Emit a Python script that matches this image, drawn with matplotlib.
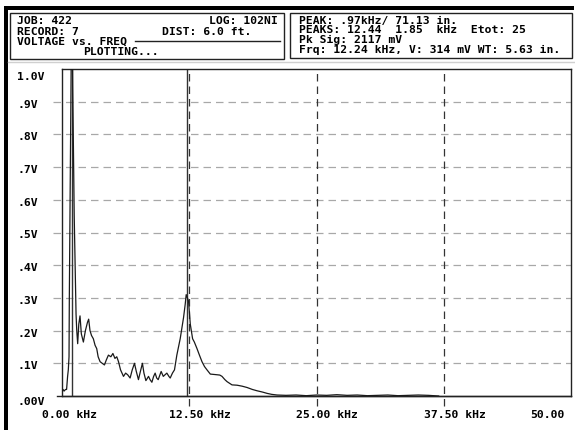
import matplotlib
matplotlib.use('Agg')
import matplotlib.pyplot as plt
import matplotlib.transforms as mtransforms
from matplotlib.patches import Rectangle
from matplotlib.lines import Line2D

# spectrum (kHz, V)
freq_khz = [0.0, 0.1, 0.2, 0.35, 0.45, 0.55, 0.62, 0.69, 0.72, 0.8, 0.88, 0.97,
            1.05, 1.2, 1.38, 1.45, 1.54, 1.65, 1.77, 1.9, 2.1, 2.3, 2.5, 2.62,
            2.75, 2.9, 3.08, 3.25, 3.41, 3.55, 3.74, 3.95, 4.17, 4.35, 4.56, 4.8,
            5.0, 5.2, 5.38, 5.55, 5.75, 6.04, 6.25, 6.45, 6.69, 6.9, 7.12, 7.3,
            7.51, 7.7, 7.9, 8.05, 8.24, 8.5, 8.65, 8.83, 9.0, 9.15, 9.3, 9.45,
            9.74, 9.95, 10.3, 10.5, 10.63, 10.85, 11.05, 11.28, 11.61, 11.94, 12.1, 12.2,
            12.32, 12.43, 12.6, 12.83, 13.0, 13.26, 13.5, 13.75, 14.0, 14.24, 14.57, 14.9,
            15.22, 15.5, 15.72, 16.0, 16.21, 16.5, 16.7, 17.2, 17.7, 18.18, 18.7, 19.16,
            19.7, 20.15, 20.6, 21.13, 22, 23, 24, 25, 26, 27, 28, 29,
            30, 31, 32, 33, 34, 35, 36, 37]
volts = [0.015, 0.02, 0.015, 0.02, 0.02, 0.06, 0.08, 0.12, 0.3, 0.62, 0.93, 1.3,
         0.95, 0.55, 0.25, 0.2, 0.16, 0.22, 0.245, 0.19, 0.165, 0.2, 0.225, 0.235,
         0.2, 0.185, 0.175, 0.155, 0.145, 0.12, 0.105, 0.1, 0.095, 0.11, 0.125, 0.12,
         0.13, 0.115, 0.12, 0.105, 0.08, 0.06, 0.07, 0.065, 0.055, 0.08, 0.1, 0.075,
         0.05, 0.075, 0.1, 0.07, 0.047, 0.06, 0.05, 0.042, 0.06, 0.07, 0.055, 0.05,
         0.075, 0.06, 0.07, 0.06, 0.055, 0.07, 0.08, 0.125, 0.175, 0.24, 0.28, 0.31,
         0.3, 0.29, 0.22, 0.175, 0.165, 0.145, 0.125, 0.105, 0.09, 0.08, 0.067, 0.066,
         0.065, 0.064, 0.06, 0.05, 0.044, 0.038, 0.034, 0.033, 0.03, 0.026, 0.02, 0.016,
         0.012, 0.008, 0.005, 0.003, 0.002, 0.003, 0.001, 0.003, 0.002, 0.004, 0.002, 0.003,
         0.001, 0.002, 0.003, 0.001, 0.002, 0.003, 0.002, 0.0]

peak_markers = [0.97, 12.24]
x_ticks = [0.0, 12.5, 25.0, 37.5, 50.0]
x_labels = ['0.00 kHz', '12.50 kHz', '25.00 kHz', '37.50 kHz', '50.00']
y_ticks = [1.0, 0.9, 0.8, 0.7, 0.6, 0.5, 0.4, 0.3, 0.2, 0.1, 0.0]
y_labels = ['1.0V', '.9V', '.8V', '.7V', '.6V', '.5V', '.4V', '.3V', '.2V', '.1V', '.00V']

header_left = ['JOB: 422', 'RECORD: 7', 'VOLTAGE vs. FREQ']
header_left_right = ['LOG: 102NI', 'DIST: 6.0 ft.']
header_right = ['PEAK: .97kHz/ 71.13 in.',
                'PEAKS: 12.44  1.85  kHz  Etot: 25',
                'Pk Sig: 2117 mV',
                'Frq: 12.24 kHz, V: 314 mV WT: 5.63 in.']

W, H = 575, 430
FONT = dict(family='DejaVu Sans Mono', weight='bold', fontsize=8.2, color='black')


def fx(x):
    return x / W


def fy(y):
    return 1 - y / H


fig = plt.figure(figsize=(W / 100, H / 100), dpi=100)
fig.patch.set_facecolor('white')

# plot box 62..571 px wide, 69..396 px tall
ax = fig.add_axes([fx(62), fy(396), fx(571) - fx(62), fy(69) - fy(396)])
ax.set_xlim(0, 50)
ax.set_ylim(0, 1.0)
ax.set_xticks([])
ax.set_yticks([])
for s in ax.spines.values():
    s.set_linewidth(1.0)
    s.set_color('#222222')

# horizontal grid (runs a bit left of the frame)
for v in y_ticks[1:-1]:
    ax.plot([-0.9, 50], [v, v], color='#a8a8a8', lw=0.9, ls=(0, (6, 4)), clip_on=False, zorder=1)
ax.plot([-0.5, 50], [0, 0], color='#222222', lw=1.0, clip_on=False, zorder=3)

# vertical dashed grid, poking below the axis
for t in x_ticks[1:-1]:
    ax.plot([t, t], [-0.03, 1.0], color='#333333', lw=0.9, ls=(0, (6, 4)), clip_on=False, zorder=1)

for m in peak_markers:
    ax.axvline(m, color='#333333', lw=1.0, zorder=2)

ax.plot(freq_khz, volts, color='#1a1a1a', lw=0.9, zorder=4)

# y labels, left aligned at x=17px
ytrans = mtransforms.blended_transform_factory(fig.transFigure, ax.transData)
for v, lab in zip(y_ticks, y_labels):
    dy = -3
    if v == 1.0:
        dy = -8
    elif v == 0.0:
        dy = -6
    off = mtransforms.ScaledTranslation(0, dy / 100, fig.dpi_scale_trans)
    fig.text(fx(17), v, lab, transform=ytrans + off, ha='left', va='center', **FONT)

# x labels, left aligned about 20px before each grid line
for t, lab in zip(x_ticks, x_labels):
    x_px = 62 + t * (571 - 62) / 50 - 20
    if t == 50.0:
        x_px = 530
    fig.text(fx(x_px), fy(415), lab, ha='left', va='center', **FONT)

# frame decorations: thick black bars top and left, light panel edge
fig.add_artist(Rectangle((fx(4), fy(10)), fx(574) - fx(4), fy(6) - fy(10),
                         transform=fig.transFigure, color='black', lw=0))
fig.add_artist(Rectangle((fx(4), 0), fx(8) - fx(4), fy(6),
                         transform=fig.transFigure, color='black', lw=0))
fig.add_artist(Line2D([fx(8), 1], [fy(62), fy(62)], transform=fig.transFigure,
                      color='#d0d0d0', lw=1))

# header boxes
fig.add_artist(Rectangle((fx(10), fy(59)), fx(284) - fx(10), fy(13) - fy(59),
                         transform=fig.transFigure, fill=False, ec='#222222', lw=1))
fig.add_artist(Rectangle((fx(290), fy(58)), fx(572) - fx(290), fy(13) - fy(58),
                         transform=fig.transFigure, fill=False, ec='#222222', lw=1))

line_y = [21.5, 31.8, 42.1, 52.4]
for i, txt in enumerate(header_left):
    fig.text(fx(17), fy(line_y[i]), txt, ha='left', va='center', **FONT)
fig.text(fx(278), fy(line_y[0]), header_left_right[0], ha='right', va='center', **FONT)
fig.text(fx(162), fy(line_y[1]), header_left_right[1], ha='left', va='center', **FONT)
fig.add_artist(Line2D([fx(135), fx(280)], [fy(41), fy(41)], transform=fig.transFigure,
                      color='#222222', lw=1))
fig.text(fx(83), fy(line_y[3]), 'PLOTTING...', ha='left', va='center', **FONT)

right_y = [20.8, 30.4, 40.0, 49.8]
for i, txt in enumerate(header_right):
    fig.text(fx(299), fy(right_y[i]), txt, ha='left', va='center', **FONT)

fig.savefig('out.png', dpi=100)
